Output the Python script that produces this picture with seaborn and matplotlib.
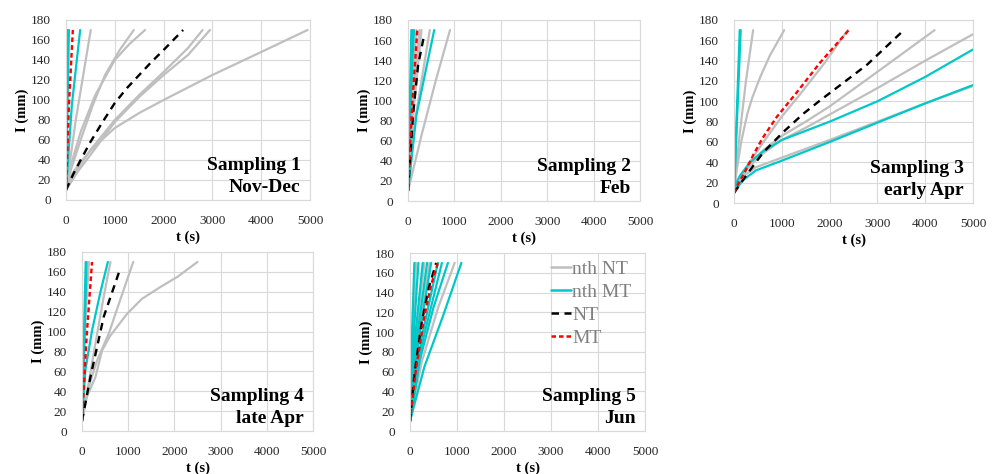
import matplotlib
matplotlib.use('Agg')
import matplotlib.pyplot as plt
from matplotlib.lines import Line2D
import seaborn as sns

sns.set_theme(style='white')
plt.rcParams['font.family'] = ['Liberation Serif', 'DejaVu Serif']

# ---------------- data (t in s, I in mm) ----------------
x_ticks = [0, 1000, 2000, 3000, 4000, 5000]
y_ticks = [0, 20, 40, 60, 80, 100, 120, 140, 160, 180]
panel_titles = ["Sampling 1\nNov-Dec", "Sampling 2\nFeb", "Sampling 3\nearly Apr",
                "Sampling 4\nlate Apr", "Sampling 5\nJun"]
legend_labels = ["nth NT", "nth MT", "NT", "MT"]

# Sampling 1
s1_nth_nt = [([0, 200, 507], [10, 80, 170]),
             ([0, 100, 300, 550, 800, 1100, 1390], [10, 30, 60, 95, 125, 150, 170]),
             ([0, 100, 300, 600, 1000, 1300, 1620], [10, 35, 68, 105, 140, 156, 170]),
             ([0, 250, 500, 1000, 1500, 2000, 2500, 2800], [10, 32, 50, 80, 105, 128, 152, 170]),
             ([0, 250, 500, 1000, 1500, 2000, 2500, 2950], [10, 29, 45, 78, 103, 125, 145, 170]),
             ([0, 100, 250, 550, 1000, 1500, 2000, 3000, 4000, 4950],
              [10, 24, 35, 52, 72, 87, 100, 125, 148, 170])]
s1_nth_mt = [([0, 30], [10, 170]),
             ([0, 60], [10, 170]),
             ([0, 120, 290], [10, 95, 170])]
s1_nt = ([0, 150, 300, 500, 750, 1000, 1250, 1500, 1750, 2000, 2200, 2400],
         [10, 26, 40, 58, 78, 97, 112, 125, 138, 150, 160, 170])
s1_mt = ([0, 60, 140], [10, 95, 170])

# Sampling 2
s2_nth_nt = [([0, 80, 180], [10, 100, 170]),
             ([0, 100, 250], [10, 100, 170]),
             ([0, 120, 290], [10, 90, 170]),
             ([0, 150, 470], [10, 80, 170]),
             ([0, 300, 600, 905], [10, 67, 120, 170])]
s2_nth_mt = [([0, 72], [10, 170]),
             ([0, 100], [10, 170]),
             ([0, 40, 130], [10, 90, 170]),
             ([0, 180, 565], [10, 85, 170])]
s2_nt = ([0, 50, 109, 217, 348], [10, 45, 86, 135, 165])
s2_mt = ([0, 90, 200], [10, 95, 170])

# Sampling 3
s3_nth_nt = [([0, 100, 250, 400], [10, 60, 120, 170]),
             ([0, 50, 150, 280, 385, 550, 750, 1050], [10, 30, 60, 88, 104, 124, 145, 170]),
             ([0, 100, 300, 615, 1000, 1400, 1900, 2380], [10, 19, 38, 60, 85, 108, 138, 170]),
             ([0, 100, 300, 615, 1000, 1500, 2000, 3000, 4196], [10, 24, 38, 52, 66, 80, 95, 129, 170]),
             ([0, 100, 300, 615, 1000, 1500, 2000, 3000, 4000, 5000],
              [10, 22, 35, 49, 62, 74, 87, 113, 140, 166]),
             ([0, 150, 450, 965, 2000, 3000, 4000, 5000], [10, 25, 35, 44, 62, 80, 98, 115])]
s3_nth_mt = [([0, 120], [10, 170]),
             ([0, 140], [10, 170]),
             ([0, 50, 126, 336, 615, 1000, 1500, 2000, 3000, 4000, 5000],
              [10, 20, 27, 40, 51, 62, 71, 80, 100, 124, 151]),
             ([0, 175, 455, 965, 2000, 3000, 4000, 5000], [10, 22, 32, 41, 60, 79, 98, 116])]
s3_nt = ([0, 300, 615, 1035, 1455, 1804, 2783, 3552], [10, 30, 50, 70, 88, 101, 136, 170])
s3_mt = ([0, 100, 200, 400, 600, 900, 1300, 1800, 2400], [10, 20, 28, 47, 64, 85, 108, 138, 170])

# Sampling 4
s4_nth_nt = [([0, 60, 150], [10, 100, 170]),
             ([0, 150, 290, 450, 616], [10, 50, 88, 130, 170]),
             ([0, 150, 326, 580, 850, 1109], [10, 45, 71, 98, 135, 170]),
             ([0, 72, 290, 435, 600, 978, 1300, 1703, 2065, 2500],
              [10, 31, 54, 81, 95, 118, 133, 145, 155, 170])]
s4_nth_mt = [([0, 80], [10, 170]),
             ([0, 100], [10, 170]),
             ([0, 72, 217, 400, 560], [10, 61, 101, 140, 170])]
s4_nt = ([0, 181, 471, 833], [10, 54, 115, 164])
s4_mt = ([0, 100, 217], [10, 95, 170])

# Sampling 5
s5_nth_nt = [([0, 50, 129], [10, 90, 170]),
             ([0, 120, 307], [10, 95, 170]),
             ([0, 160, 414], [10, 95, 170]),
             ([0, 250, 600, 950], [10, 70, 125, 170])]
s5_nth_mt = [([0, 40, 93], [10, 95, 170]),
             ([0, 75, 179], [10, 95, 170]),
             ([0, 110, 271], [10, 95, 170]),
             ([0, 150, 364], [10, 95, 170]),
             ([0, 190, 450], [10, 95, 170]),
             ([0, 250, 593], [10, 95, 170]),
             ([0, 290, 679], [10, 95, 170]),
             ([0, 200, 500, 807], [10, 70, 125, 170]),
             ([0, 307, 700, 1093], [10, 65, 116, 170])]
s5_nt = ([0, 100, 250, 400, 557], [10, 60, 110, 145, 170])
s5_mt = ([0, 120, 300, 450, 593], [10, 60, 115, 148, 170])

panels = [(s1_nth_nt, s1_nth_mt, s1_nt, s1_mt),
          (s2_nth_nt, s2_nth_mt, s2_nt, s2_mt),
          (s3_nth_nt, s3_nth_mt, s3_nt, s3_mt),
          (s4_nth_nt, s4_nth_mt, s4_nt, s4_mt),
          (s5_nth_nt, s5_nth_mt, s5_nt, s5_mt)]

# ---------------- style ----------------
GRAY = '#BFBFBF'
CYAN = '#00C8C8'
BLACK = '#000000'
RED = '#FF0000'
GRID = '#D9D9D9'
NT_DASH = (0, (3.2, 2.4))
MT_DASH = (0, (2.0, 1.3))

W, H = 994, 474
fig = plt.figure(figsize=(W / 100, H / 100), dpi=100)
fig.patch.set_facecolor('white')

# pixel boxes: left, right, top, bottom
boxes = [(66, 310, 20, 200), (408, 640, 20, 201), (734, 973, 20, 203),
         (82, 313, 252, 431), (410, 645, 253, 431)]


def draw(ax, t, I, color, lw, ls='-'):
    sns.lineplot(x=t, y=I, ax=ax, color=color, lw=lw, linestyle=ls,
                 sort=False, estimator=None, legend=False)


for k, ((l, r, t, b), (nth_nt, nth_mt, nt, mt)) in enumerate(zip(boxes, panels)):
    ax = fig.add_axes([l / W, 1 - b / H, (r - l) / W, (b - t) / H])
    for tt, ii in nth_nt:
        draw(ax, tt, ii, GRAY, 1.6)
    for tt, ii in nth_mt:
        draw(ax, tt, ii, CYAN, 1.6)
    draw(ax, nt[0], nt[1], BLACK, 1.7, NT_DASH)
    draw(ax, mt[0], mt[1], RED, 1.7, MT_DASH)

    ax.set_xlim(0, 5000)
    ax.set_ylim(0, 180)
    ax.set_xticks(x_ticks)
    ax.set_yticks(y_ticks)
    ax.grid(True, color=GRID, lw=0.8)
    ax.set_axisbelow(True)
    for s in ax.spines.values():
        s.set_visible(True)
        s.set_color(GRID)
        s.set_linewidth(0.8)
    ax.tick_params(length=0, labelsize=9.5, colors='#262626', pad=11)
    ax.set_xlabel('t (s)', fontweight='bold', fontsize=10.5, labelpad=2, color='#000000')
    ax.set_ylabel('I (mm)', fontweight='bold', fontsize=10.5, labelpad=1, color='#000000')
    ax.text(0.962, 0.02, panel_titles[k], transform=ax.transAxes, ha='right', va='bottom',
            fontsize=14, fontweight='bold', linespacing=1.4, color='#000000')

    if k == 4:
        handles = [Line2D([], [], color=GRAY, lw=1.8),
                   Line2D([], [], color=CYAN, lw=1.8),
                   Line2D([], [], color=BLACK, lw=1.8, linestyle=(0, (3, 2.2))),
                   Line2D([], [], color=RED, lw=1.8, linestyle=(0, (1.8, 1.2)))]
        leg = ax.legend(handles, legend_labels, loc='upper left', bbox_to_anchor=(0.6, 0.96),
                        frameon=False, fontsize=14, handlelength=1.05, handletextpad=0.05,
                        labelspacing=0.28, borderpad=0, borderaxespad=0)
        for txt in leg.get_texts():
            txt.set_color('#808080')

fig.savefig('out.png', dpi=100, facecolor='white')
